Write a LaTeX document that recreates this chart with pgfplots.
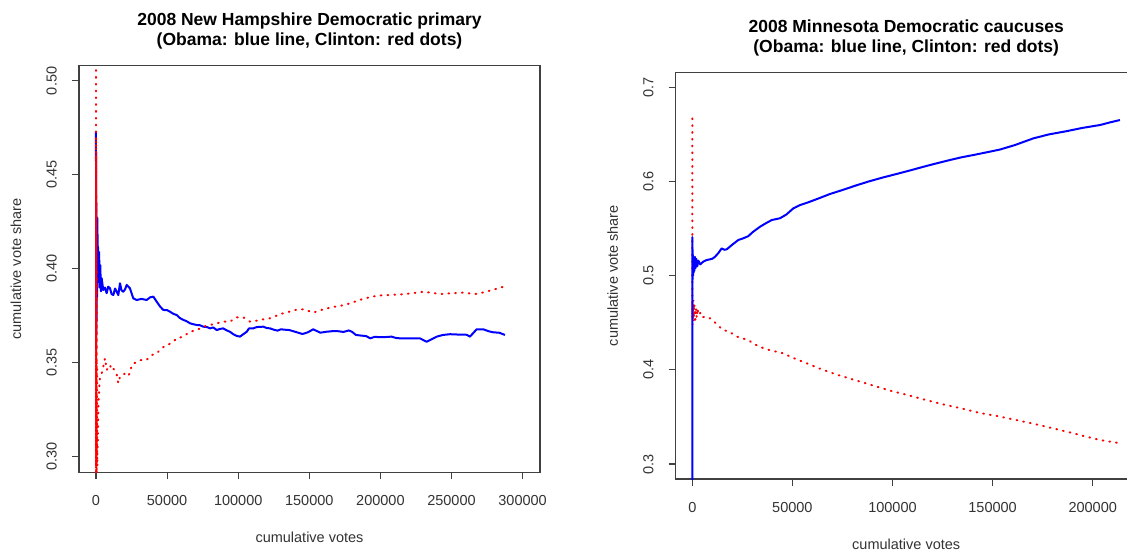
\documentclass[border=0pt]{standalone}
\usepackage{fontspec}
\setmainfont{Liberation Sans}
\usepackage{pgfplots}
\pgfplotsset{compat=1.18}

\definecolor{rblue}{RGB}{0,0,255}
\definecolor{rred}{RGB}{255,0,0}

\pgfplotsset{
  rplot/.style={
    scale only axis, width=461pt, height=406.6pt,
    anchor=south west,
    axis line style={black!75, line width=1.1pt},
    every tick/.style={black!75, line width=1.1pt},
    tick align=outside, major tick length=7pt,
    tick pos=left,
    /pgf/number format/assume math mode=true,
    ticklabel style={font=\fontsize{14.5}{17}\selectfont, text=black!80},
    yticklabel style={rotate=90, anchor=south, inner sep=0pt},
    xticklabel style={anchor=north, inner sep=0pt},
    xticklabel shift=16pt, yticklabel shift=15pt,
    label style={font=\fontsize{14.5}{17}\selectfont, text=black!80},
    xlabel style={at={([yshift=-65.5pt]axis description cs:0.5,0)}, anchor=center},
    ylabel style={at={([xshift=-63pt]axis description cs:0,0.5)}, anchor=center},
    title style={at={([yshift=10pt]axis description cs:0.5,1)}, anchor=south,
      align=center, inner sep=0pt, font=\fontsize{17.5}{20.5}\selectfont\bfseries},
    xlabel={cumulative votes}, ylabel={cumulative vote share},
    scaled ticks=false,
  },
  obama/.style={rblue, line width=2pt, line join=round},
  clinton/.style={rred, line width=2pt, line cap=round, dash pattern=on 0.8pt off 6pt},
}

\begin{document}
\begin{tikzpicture}
% New Hampshire
\begin{axis}[rplot, at={(79pt,79.7pt)},
  title={2008 New Hampshire Democratic primary\\(Obama: blue line, Clinton: red dots)},
  xmin=-11950, xmax=312240, ymin=0.2917, ymax=0.5081,
  xtick={0,50000,100000,150000,200000,250000,300000},
  xticklabels={0,50000,100000,150000,200000,250000,300000},
  ytick={0.30,0.35,0.40,0.45,0.50},
  yticklabels={0.30,0.35,0.40,0.45,0.50}]
\addplot[obama] coordinates {
(0,0.473) (40,0.357) (80,0.462) (120,0.360) (160,0.445) (200,0.365) (300,0.435)
(400,0.372) (600,0.427) (800,0.385) (1000,0.427) (1200,0.398) (1400,0.412)
(1800,0.393) (2200,0.409) (2600,0.390) (3000,0.402) (3500,0.388) (4000,0.395)
(5100,0.3887) (6300,0.3900) (7500,0.3870) (8600,0.3905) (9850,0.3896)
(11000,0.3865) (12200,0.3861) (13400,0.3895) (14550,0.3878) (15700,0.3860)
(16880,0.3923) (18000,0.3885) (19200,0.3878) (20400,0.3890) (21600,0.3914)
(23900,0.3896) (26230,0.3843) (28600,0.3834) (32000,0.3840) (35650,0.3834)
(38000,0.3848) (40300,0.3852) (42700,0.3825) (45000,0.3800) (47300,0.3781)
(50000,0.3780) (52000,0.3772) (54500,0.3760) (56750,0.3754) (59000,0.3738)
(61400,0.3728) (63500,0.3722) (66100,0.3710) (68500,0.3705) (70800,0.3701)
(73000,0.3700) (75450,0.3692) (78000,0.3690) (80200,0.3683) (82500,0.3688)
(84900,0.3674) (87200,0.3680) (89500,0.3683) (92000,0.3672) (94200,0.3665)
(96500,0.3652) (98950,0.3643) (101300,0.3639) (103600,0.3652) (106000,0.3665)
(107600,0.3683) (110600,0.3683) (113000,0.3690) (117650,0.3692) (120000,0.3685)
(122400,0.3683) (125000,0.3676) (127700,0.3671) (130000,0.3678) (132700,0.3676)
(136000,0.3674) (140000,0.3665) (145200,0.3653) (149000,0.3662) (152700,0.3678)
(155000,0.3670) (157700,0.3660) (162000,0.3665) (166000,0.3668) (170200,0.3668)
(174000,0.3664) (177800,0.3672) (180000,0.3665) (182800,0.3648) (186000,0.3645)
(190000,0.3642) (192800,0.3630) (196000,0.3638) (200000,0.3636) (204000,0.3637)
(207800,0.3639) (211000,0.3632) (213800,0.3630) (220000,0.3630) (227800,0.3630)
(232500,0.3612) (236000,0.3625) (239600,0.3639) (244000,0.3648) (249000,0.3652)
(255000,0.3650) (260700,0.3649) (263000,0.3639) (265500,0.3660) (267700,0.3678)
(272400,0.3678) (276000,0.3668) (279400,0.3662) (283500,0.3660) (287600,0.3648)
};
\addplot[clinton] coordinates {
(0,0.560) (30,0.290) (60,0.470) (90,0.295) (120,0.460) (150,0.290) (200,0.440)
(250,0.295) (300,0.420) (350,0.290) (420,0.400) (500,0.291) (700,0.350)
(900,0.295) (1000,0.300) (1300,0.310) (1640,0.325) (2000,0.332) (2350,0.3373)
(2800,0.3426) (4000,0.3444) (5150,0.3479) (6330,0.3524) (7500,0.3462)
(8700,0.3470) (9850,0.3488) (11000,0.3462) (12200,0.3470) (13360,0.3452)
(14500,0.3440) (15700,0.3391) (16900,0.3426) (18700,0.3430) (20400,0.3444)
(22200,0.3430) (23900,0.3444) (25100,0.3488) (28600,0.3506) (32100,0.3515)
(35650,0.3515) (39150,0.3541) (42700,0.3550) (46200,0.3577) (49700,0.3595)
(53200,0.3604) (56750,0.3630) (61400,0.3639) (66100,0.3665) (70800,0.3674)
(75450,0.3692) (80200,0.3701) (84900,0.3710) (89500,0.3719) (94200,0.3719)
(98950,0.3742) (103600,0.3742) (108300,0.3719) (113000,0.3724) (117650,0.3731)
(122400,0.3737) (130000,0.3760) (135000,0.3770) (140200,0.3781) (146000,0.3785)
(152700,0.3767) (160000,0.3785) (167700,0.3798) (173000,0.3805) (179000,0.3817)
(185200,0.3834) (194000,0.3852) (200000,0.3858) (207800,0.3861) (218000,0.3866)
(230300,0.3878) (236000,0.3872) (242800,0.3866) (250000,0.3870) (257800,0.3873)
(262000,0.3870) (267900,0.3866) (275000,0.3880) (280000,0.3890) (285400,0.3902)
(287600,0.3905)
};
\end{axis}

% Minnesota
\begin{axis}[rplot, at={(675.7pt,73pt)},
  title={2008 Minnesota Democratic caucuses\\(Obama: blue line, Clinton: red dots)},
  xmin=-8290, xmax=221980, ymin=0.2841, ymax=0.7159,
  xtick={0,50000,100000,150000,200000},
  xticklabels={0,50000,100000,150000,200000},
  ytick={0.3,0.4,0.5,0.6,0.7},
  yticklabels={0.3,0.4,0.5,0.6,0.7}]
\addplot[clinton] coordinates {
(0,0.667) (0,0.470) (60,0.455) (120,0.472) (200,0.448) (300,0.468) (420,0.452)
(560,0.474) (700,0.455) (900,0.470) (1150,0.467) (1400,0.450) (1800,0.466)
(2200,0.455) (2600,0.465) (3200,0.458) (4200,0.461) (5200,0.456) (6440,0.4564)
(8000,0.4560) (10000,0.4529) (12500,0.4480) (15330,0.4423) (18000,0.4410)
(22480,0.4352) (27800,0.4317) (33000,0.4250) (38460,0.4211) (45560,0.4175)
(50000,0.4130) (56000,0.4080) (63340,0.4016) (72000,0.3950) (81120,0.3892)
(90000,0.3835) (98900,0.3779) (108000,0.3730) (116690,0.3680) (125000,0.3635)
(134400,0.3591) (143000,0.3545) (152200,0.3510) (160000,0.3475) (170000,0.3430)
(178000,0.3390) (187800,0.3340) (196000,0.3295) (203600,0.3255) (211100,0.3230)
(213600,0.3220)
};
\addplot[obama] coordinates {
(0,0.250) (0,0.541) (60,0.500) (120,0.528) (180,0.496) (260,0.522) (350,0.500)
(450,0.520) (600,0.503) (800,0.518) (1000,0.505) (1300,0.520) (1600,0.508)
(2000,0.518) (2500,0.510) (3000,0.516) (4000,0.512) (5500,0.515) (7000,0.5165)
(8840,0.5174) (10000,0.5180) (11340,0.5201) (13000,0.5240) (14680,0.5290)
(16000,0.5275) (17180,0.5280) (20000,0.5330) (22980,0.5379) (25470,0.5397)
(28000,0.5420) (30000,0.5460) (33800,0.5520) (37000,0.5560) (39660,0.5591)
(43800,0.5610) (47000,0.5650) (50450,0.5715) (53800,0.5750) (58000,0.5780)
(63000,0.5820) (68680,0.5867) (75000,0.5910) (82000,0.5960) (88000,0.6000)
(95350,0.6044) (102000,0.6080) (110000,0.6125) (116000,0.6160) (121980,0.6193)
(128000,0.6225) (134400,0.6257) (140000,0.6280) (147000,0.6310) (153700,0.6340)
(161100,0.6387) (170300,0.6458) (178000,0.6500) (187000,0.6535) (195000,0.6570)
(203600,0.6600) (209000,0.6630) (213600,0.6653)
};
\end{axis}
\pgfresetboundingbox
\path[use as bounding box] (0,0) rectangle (1127pt,552pt);
\end{tikzpicture}
\end{document}
